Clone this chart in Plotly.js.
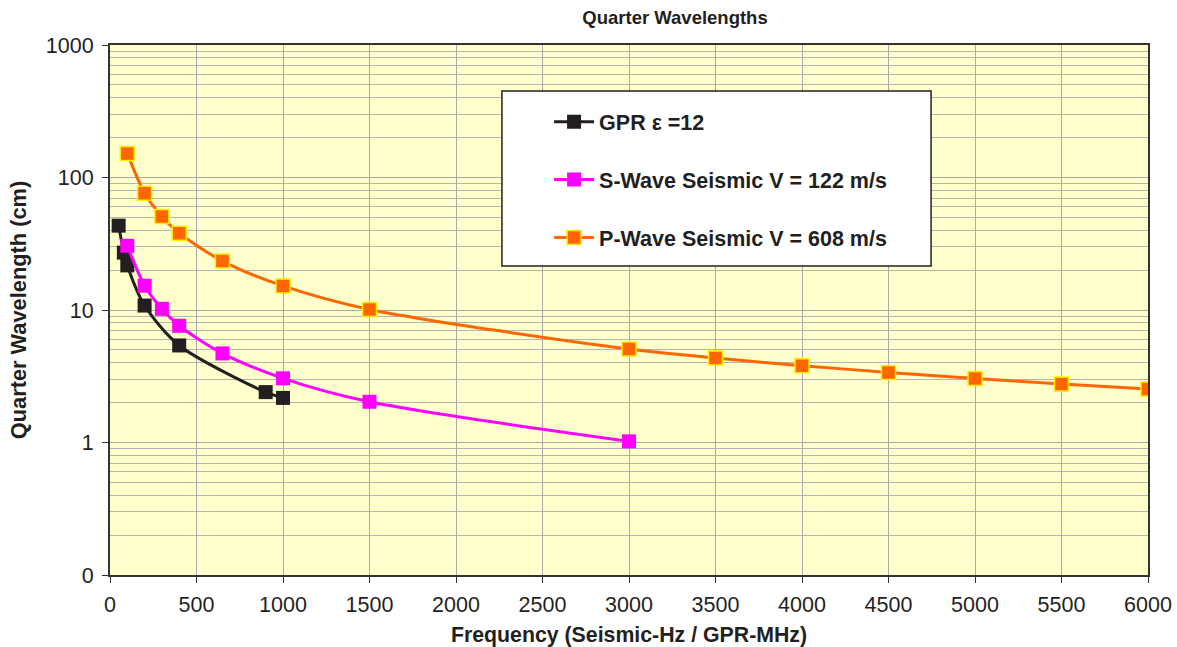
<!DOCTYPE html>
<html>
<head>
<meta charset="utf-8">
<script src="https://cdn.plot.ly/plotly-3.0.1.min.js"></script>
<style>
  html, body { margin: 0; padding: 0; background: #ffffff; }
  #chart { width: 1177px; height: 647px; }
</style>
</head>
<body>
<div id="chart"></div>
<script>
// Frequencies (Seismic in Hz, GPR in MHz) and quarter wavelengths in cm
const gprFreq = [50, 80, 100, 200, 400, 900, 1000];
const gprQuarter = [43.3, 27.1, 21.7, 10.8, 5.4, 2.4, 2.17];

const sWaveFreq = [100, 200, 300, 400, 650, 1000, 1500, 3000];
const sWaveQuarter = [30.5, 15.25, 10.2, 7.6, 4.7, 3.05, 2.03, 1.02];

const pWaveFreq = [100, 200, 300, 400, 650, 1000, 1500, 3000, 3500, 4000, 4500, 5000, 5500, 6000];
const pWaveQuarter = [152, 76, 50.7, 38, 23.4, 15.2, 10.1, 5.07, 4.34, 3.8, 3.38, 3.04, 2.76, 2.53];

const seriesNames = ['GPR \u03b5 =12', 'S-Wave Seismic V = 122 m/s', 'P-Wave Seismic V = 608 m/s'];

const yTickVals = [0.1, 1, 10, 100, 1000];
const yTickText = ['0', '1', '10', '100', '1000'];

// minor grid lines inside each decade
const yMinorVals = [];
[0.1, 1, 10, 100].forEach(function (d) {
  for (let k = 2; k <= 9; k++) yMinorVals.push(d * k);
});

const FONT = 'Liberation Sans, Arial, Helvetica, sans-serif';
const INK = '#231f20';

function series(x, y, name, lineColor, fill, edge, group) {
  return {
    x: x, y: y, name: '<b>' + name + '</b>', type: 'scatter', mode: 'lines+markers',
    legendgroup: group,
    line: { color: lineColor, width: 3, shape: 'spline', smoothing: 0.8 },
    marker: { symbol: 'square', size: 14, color: fill,
              line: { color: edge, width: edge ? 1.5 : 0 } }
  };
}

const traces = [
  series(gprFreq, gprQuarter, seriesNames[0], INK, INK, null, 'g1'),
  series(sWaveFreq, sWaveQuarter, seriesNames[1], '#ff00ff', '#ff00ff', null, 'g2'),
  series(pWaveFreq, pWaveQuarter, seriesNames[2], '#ff6600', '#ff6600', '#ffee00', 'g3')
];

const layout = {
  width: 1177, height: 647,
  margin: { l: 110, r: 29, t: 45, b: 72 },
  paper_bgcolor: '#ffffff',
  plot_bgcolor: '#ffffcc',
  font: { family: FONT, color: INK },
  title: {
    text: '<b>Quarter Wavelengths</b>',
    font: { family: FONT, size: 18.5, color: INK },
    xref: 'container', x: 0.5735, xanchor: 'center', y: 0.973, yanchor: 'middle'
  },
  xaxis: {
    range: [0, 6000], dtick: 500, tick0: 0,
    showgrid: true, gridcolor: '#a9a9a9', gridwidth: 1,
    zeroline: false,
    showline: true, linecolor: '#333333', linewidth: 2, mirror: true,
    ticks: 'outside', ticklen: 6, tickcolor: '#333333',
    ticklabelstandoff: 3,
    tickfont: { family: FONT, size: 21.5, color: INK },
    title: { text: '<b>Frequency (Seismic-Hz / GPR-MHz)</b>',
             font: { family: FONT, size: 21.3, color: INK }, standoff: 12 }
  },
  yaxis: {
    type: 'log', range: [-1, 3],
    tickmode: 'array', tickvals: yTickVals, ticktext: yTickText,
    showgrid: true, gridcolor: '#a9a9a9', gridwidth: 1,
    minor: { tickmode: 'array', tickvals: yMinorVals, showgrid: true,
             gridcolor: '#b4b4b4', gridwidth: 1, ticks: '' },
    zeroline: false,
    showline: true, linecolor: '#333333', linewidth: 2, mirror: true,
    ticks: 'outside', ticklen: 6, tickcolor: '#333333',
    ticklabelstandoff: 4,
    tickfont: { family: FONT, size: 21.5, color: INK },
    title: { text: '<b>Quarter Wavelength (cm)</b>',
             font: { family: FONT, size: 21.8, color: INK }, standoff: 13 }
  },
  showlegend: true,
  legend: {
    x: 0.423, y: 0.894, xanchor: 'left', yanchor: 'top',
    bgcolor: 'rgba(0,0,0,0)', borderwidth: 0,
    itemwidth: 40, tracegroupgap: 27,
    font: { family: FONT, size: 21.5, color: INK }
  },
  shapes: [{
    type: 'rect', xref: 'paper', yref: 'paper',
    x0: 0.3776, x1: 0.791, y0: 0.583, y1: 0.913,
    fillcolor: '#ffffff', line: { color: INK, width: 1.5 }, layer: 'above'
  }]
};

Plotly.newPlot('chart', traces, layout, { displayModeBar: false, staticPlot: true });
</script>
</body>
</html>
